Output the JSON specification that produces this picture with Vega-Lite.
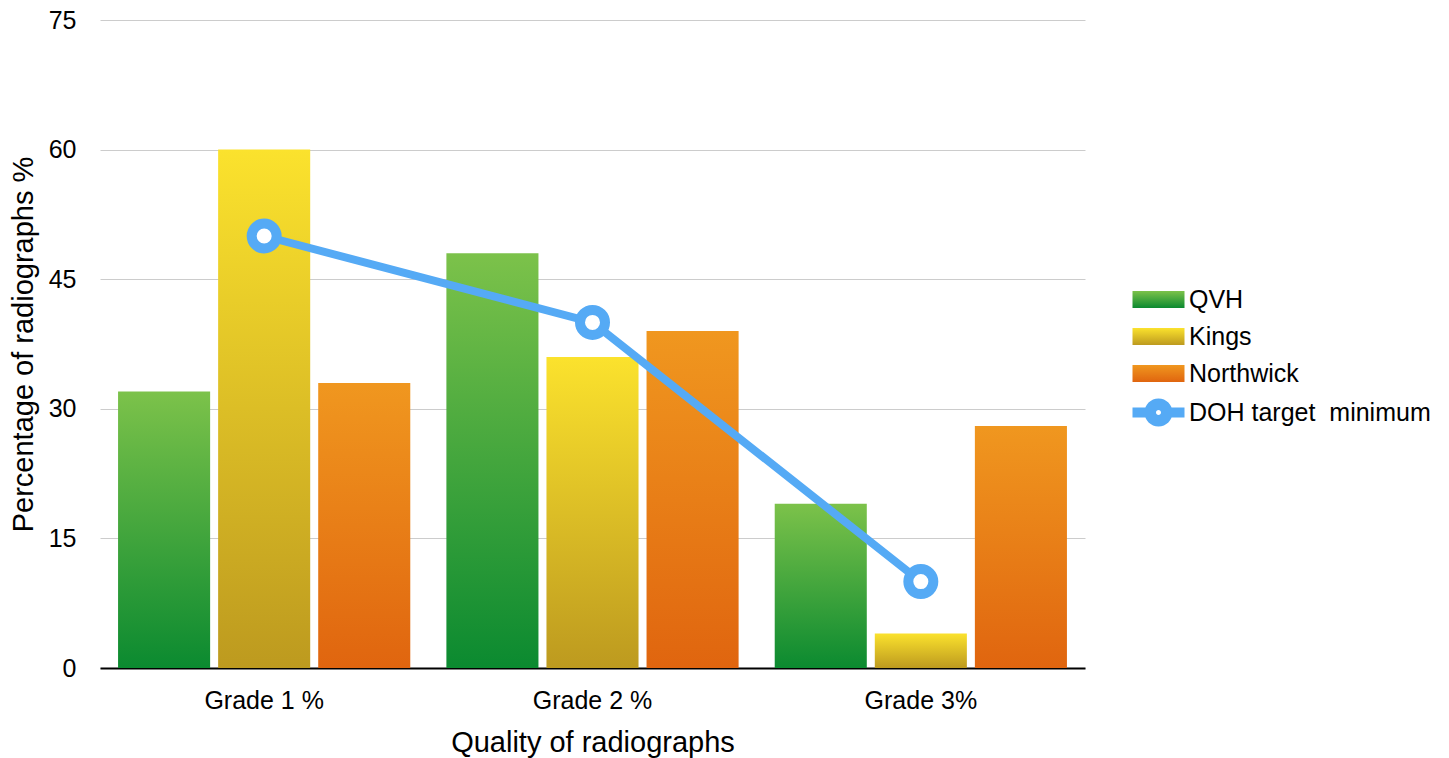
{
  "$schema": "https://vega.github.io/schema/vega-lite/v6.json",
  "width": 985,
  "height": 648,
  "autosize": {"type": "none"},
  "padding": {"left": 100, "top": 20, "right": 364, "bottom": 90},
  "background": "white",
  "config": {
    "font": "Liberation Sans",
    "view": {"stroke": null},
    "axis": {"labelColor": "#000000", "titleColor": "#000000", "labelFontSize": 25, "titleFontSize": 29, "titleFontWeight": "normal", "labelFont": "Liberation Sans", "titleFont": "Liberation Sans"},
    "legend": {"labelFont": "Liberation Sans", "labelFontSize": 25, "labelColor": "#000000", "labelLimit": 400}
  },
  "datasets": {
    "bars": [
      {"grade": "Grade 1 %", "series": "QVH", "value": 32},
      {"grade": "Grade 1 %", "series": "Kings", "value": 60},
      {"grade": "Grade 1 %", "series": "Northwick", "value": 33},
      {"grade": "Grade 2 %", "series": "QVH", "value": 48},
      {"grade": "Grade 2 %", "series": "Kings", "value": 36},
      {"grade": "Grade 2 %", "series": "Northwick", "value": 39},
      {"grade": "Grade 3%", "series": "QVH", "value": 19},
      {"grade": "Grade 3%", "series": "Kings", "value": 4},
      {"grade": "Grade 3%", "series": "Northwick", "value": 28}
    ],
    "target": [
      {"grade": "Grade 1 %", "series": "DOH target\u00a0 minimum", "value": 50},
      {"grade": "Grade 2 %", "series": "DOH target\u00a0 minimum", "value": 40},
      {"grade": "Grade 3%", "series": "DOH target\u00a0 minimum", "value": 10}
    ]
  },
  "encoding": {
    "x": {
      "field": "grade", "type": "nominal",
      "sort": ["Grade 1 %", "Grade 2 %", "Grade 3%"],
      "scale": {"paddingInner": 0.11, "paddingOuter": 0.055},
      "title": "Quality of radiographs",
      "axis": {"labelAngle": 0, "ticks": false, "domain": true, "domainColor": "#000000", "domainWidth": 2, "labelPadding": 20, "titlePadding": 15, "grid": false}
    },
    "y": {
      "field": "value", "type": "quantitative",
      "scale": {"domain": [0, 75], "nice": false},
      "title": "Percentage of radiographs %",
      "axis": {"values": [0, 15, 30, 45, 60, 75], "domain": false, "ticks": false, "grid": true, "gridColor": "#cccccc", "gridWidth": 1, "labelPadding": 24, "titlePadding": 10}
    }
  },
  "layer": [
    {
      "data": {"name": "bars"},
      "mark": {"type": "bar", "opacity": 1},
      "encoding": {
        "xOffset": {"field": "series", "type": "nominal", "scale": {"domain": ["QVH", "Kings", "Northwick"], "paddingInner": 0.08, "paddingOuter": 0}},
        "color": {
          "field": "series", "type": "nominal",
          "scale": {
            "domain": ["QVH", "Kings", "Northwick", "DOH target\u00a0 minimum"],
            "range": [
              {"expr": "{gradient: 'linear', x1: 0, y1: 0, x2: 0, y2: 1, stops: [{offset: 0, color: '#7cc24a'}, {offset: 1, color: '#0b8a30'}]}"},
              {"expr": "{gradient: 'linear', x1: 0, y1: 0, x2: 0, y2: 1, stops: [{offset: 0, color: '#fbe22d'}, {offset: 1, color: '#bd9a1f'}]}"},
              {"expr": "{gradient: 'linear', x1: 0, y1: 0, x2: 0, y2: 1, stops: [{offset: 0, color: '#f0971f'}, {offset: 1, color: '#e0650f'}]}"},
              "#55aaf5"
            ]
          },
          "legend": {
            "title": null,
            "orient": "none",
            "legendX": 1046,
            "legendY": 267,
            "symbolSize": 400,
            "symbolStrokeWidth": 0,
            "symbolOpacity": 1,
            "symbolType": {"expr": "indexof(datum.value, 'DOH') === 0 ? 'M-2.6,-0.5H-1.2V0.5H-2.6Z M1.2,-0.5H2.6V0.5H1.2Z M1.4,0C1.4,0.773 0.773,1.4 0,1.4C-0.773,1.4 -1.4,0.773 -1.4,0C-1.4,-0.773 -0.773,-1.4 0,-1.4C0.773,-1.4 1.4,-0.773 1.4,0Z M0.25,0C0.25,-0.138 0.138,-0.25 0,-0.25C-0.138,-0.25 -0.25,-0.138 -0.25,0C-0.25,0.138 -0.138,0.25 0,0.25C0.138,0.25 0.25,0.138 0.25,0Z' : 'M-2.6,-0.85H2.6V0.85H-2.6Z'"},
            "labelOffset": 18,
            "rowPadding": 11,
            "padding": 0
          }
        }
      }
    },
    {
      "data": {"name": "target"},
      "mark": {"type": "line", "strokeWidth": 8, "opacity": 1, "color": "#55aaf5"},
      "encoding": {}
    },
    {
      "data": {"name": "target"},
      "mark": {"type": "point", "shape": "circle", "size": 625, "filled": true, "fill": "#ffffff", "stroke": "#55aaf5", "strokeWidth": 10, "opacity": 1, "fillOpacity": 1, "strokeOpacity": 1},
      "encoding": {}
    }
  ]
}
